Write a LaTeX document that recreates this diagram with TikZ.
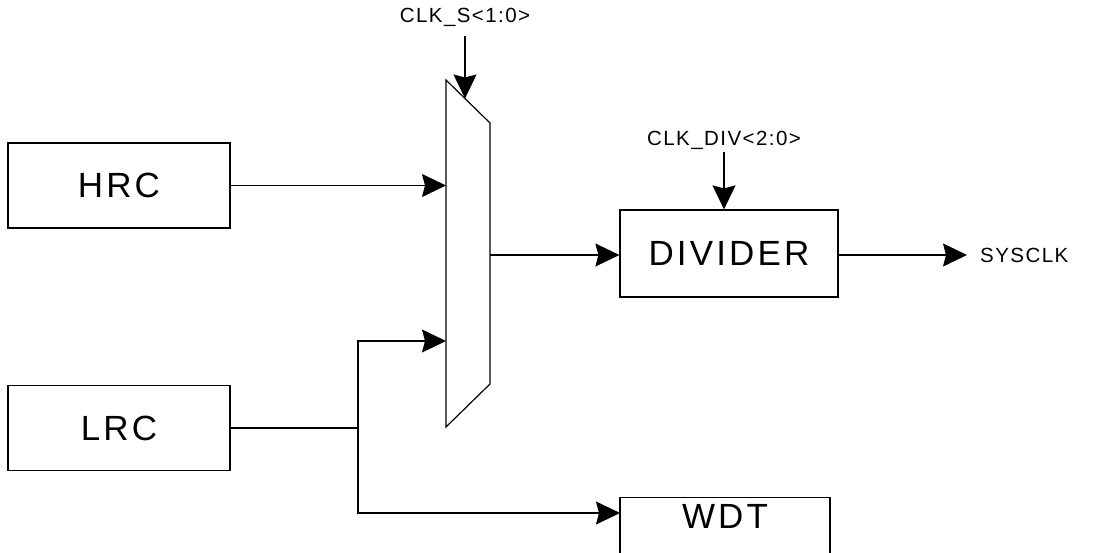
\documentclass[tikz,border=0pt]{standalone}
\usepackage{fontspec}
\setmainfont{Liberation Sans}
\newfontfamily\bigfont{Liberation Sans}[LetterSpace=9]
\newfontfamily\smallfont{Liberation Sans}[LetterSpace=7]
\usetikzlibrary{arrows.meta}
\begin{document}
\begin{tikzpicture}[x=1pt,y=-1pt,
  blk/.style={draw, line width=1.2pt, font=\bigfont\fontsize{35}{38}\selectfont, inner sep=0pt},
  sig/.style={font=\smallfont\fontsize{20.5}{23}\selectfont, inner sep=0pt},
  wire/.style={line width=1.2pt},
  conn/.style={line width=1.2pt, -{Stealth[length=24pt,width=23pt,inset=3pt]}}]
\useasboundingbox (0,0) rectangle (1099,553);
% blocks
\node[blk, minimum width=222pt, minimum height=85pt] (hrc) at (119,185.5) {HRC};
\node[blk, minimum width=222pt, minimum height=85pt] (lrc) at (119,428) {LRC};
\node[blk, minimum width=218pt, minimum height=87pt] (div) at (729,253.5) {DIVIDER};
\node[blk, minimum width=210pt, minimum height=87pt, anchor=north] (wdt) at (725,497) {};
\node[font=\bigfont\fontsize{35}{38}\selectfont, inner sep=0pt] (wdtlabel) at (725,516) {WDT};
% mux
\coordinate (m1) at (446,80);
\coordinate (m2) at (490,123);
\coordinate (m3) at (490,384);
\coordinate (m4) at (446,427);
\draw[wire] (m1) -- (m2) -- (m3) -- (m4) -- cycle;
\coordinate (muxinA) at (446,185.5);
\coordinate (muxinB) at (446,341);
\coordinate (muxout) at (490,255);
\coordinate (muxsel) at (465,98.5);
% labels
\node[sig] (clks) at (465,17) {CLK\_S<1:0>};
\node[sig] (clkdiv) at (724,140) {CLK\_DIV<2:0>};
\node[sig, anchor=west] (sysclk) at (980,255) {SYSCLK};
% connectors
\draw[conn] (hrc.east) -- (muxinA);
\coordinate (j) at (358,428);
\draw[wire] (lrc.east) -- (j);
\draw[conn] (j) |- (muxinB);
\coordinate (wdtin) at (620,513);
\draw[conn] (j) |- (wdtin);
\draw[conn] (muxout) -- (div.west |- muxout);
\draw[conn, shorten <=10pt] (clks.south) -- (muxsel);
\draw[conn, shorten <=3pt] (clkdiv.south) -- (div.north -| clkdiv.south);
\draw[conn, shorten >=13pt] (div.east |- sysclk.west) -- (sysclk.west);
\end{tikzpicture}
\end{document}
